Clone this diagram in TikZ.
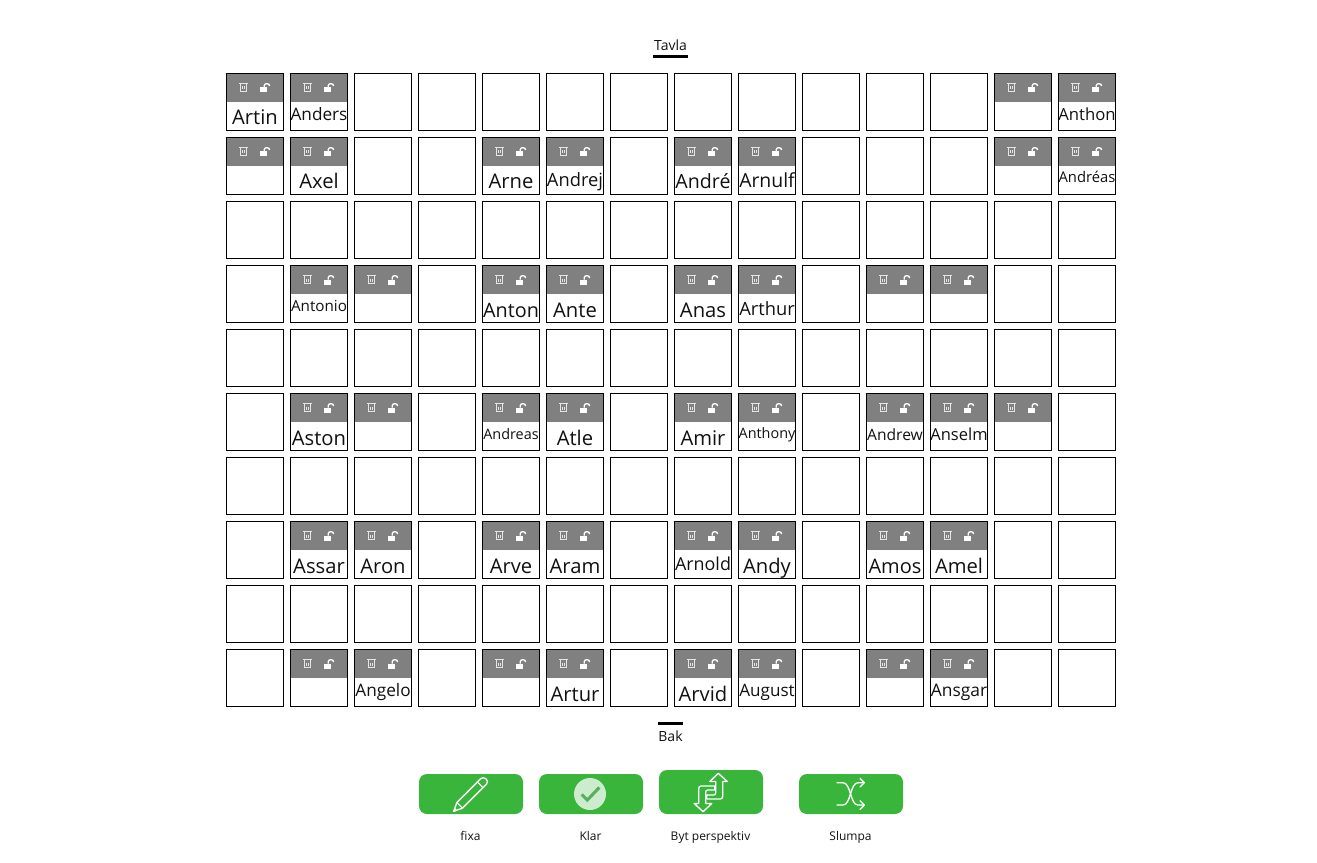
\documentclass[tikz,border=0pt]{standalone}
\usepackage{fontspec}
\setmainfont{Open Sans}
\definecolor{btn}{HTML}{39B53B}
\definecolor{head}{HTML}{808080}
\definecolor{ink}{HTML}{111111}
\definecolor{iconw}{HTML}{E4E4E4}
\definecolor{tick}{HTML}{5AAF5E}
\newcommand{\pxf}[1]{\pgfmathsetlengthmacro{\fsz}{#1*0.75pt}\fontsize{\fsz}{\fsz}\selectfont}
\newcommand{\tileicons}[2]{%
  \pgfmathsetmacro{\ox}{226+64*#1}\pgfmathsetmacro{\oy}{73+64*#2}%
  \begin{scope}[shift={(\ox,\oy)}]
  \draw[iconw,line width=.7pt] (14,11) -- (14,18.8) -- (20.5,18.8) -- (20.5,11);
  \draw[iconw,line width=.7pt] (13,10.8) -- (21.5,10.8);
  \draw[iconw,line width=.5pt] (16.4,13.5) -- (16.4,16.5) (18.2,13.5) -- (18.2,16.5);
  \fill[white] (34,14.5) rectangle (41,19.5);
  \draw[white,line width=1pt] (38.3,14.5) -- (38.3,12.5) .. controls (38.3,10) and (43.7,10) .. (43.7,13);
  \end{scope}
}
\tikzset{
  x=0.75pt,y=-0.75pt,
  cellbox/.style={draw=black,line width=0.85pt,minimum size=42.75pt,inner sep=0pt,outer sep=0pt},
  headbox/.style={fill=head,minimum width=43.5pt,minimum height=21.75pt,inner sep=0pt,outer sep=0pt,anchor=north west},
  namelbl/.style={anchor=base,inner sep=0pt,text=ink},
  btnbox/.style={fill=btn,rounded corners=6pt,inner sep=0pt,outer sep=0pt,minimum width=78pt,anchor=north west},
  btnlbl/.style={anchor=base,inner sep=0pt,text=ink,font=\fontsize{9pt}{11pt}\selectfont},
  sidelbl/.style={anchor=base,inner sep=0pt,text=ink,font=\fontsize{10.5pt}{12pt}\selectfont},
  barbox/.style={fill=black,inner sep=0pt,outer sep=0pt,minimum height=2.25pt},
  icon/.style={draw=white,line width=1pt,line join=round,line cap=round},
}
\begin{document}
\begin{tikzpicture}
\useasboundingbox (0,0) rectangle (1317,863);
% headers without a name
\foreach \c/\r in {12/0,0/1,12/1,2/3,10/3,11/3,2/5,12/5,1/9,4/9,10/9}{
  \node[headbox] (hb-\c-\r) at ({226+64*\c},{73+64*\r}) {};
  \tileicons{\c}{\r}
}
% headers with a name: col/row/name/size/baseline offset
\foreach \c/\r/\t/\s/\b in {
 0/0/Artin/20.2/52, 1/0/Anders/17.2/48, 13/0/Anthon/16.7/48,
 1/1/Axel/20.2/52, 4/1/Arne/20.2/52, 5/1/Andrej/18.3/50, 7/1/André/19.6/52, 8/1/Arnulf/19.4/51, 13/1/Andréas/14.8/46,
 1/3/Antonio/15.2/46, 4/3/Anton/19.8/52, 5/3/Ante/20.2/52, 7/3/Anas/20.2/52, 8/3/Arthur/18.3/50,
 1/5/Aston/20.2/52, 4/5/Andreas/14.4/46, 5/5/Atle/20.2/52, 7/5/Amir/20.2/52, 8/5/Anthony/14.4/45, 10/5/Andrew/15.6/47, 11/5/Anselm/16.5/47,
 1/7/Assar/20.2/52, 2/7/Aron/20.2/52, 4/7/Arve/20.2/52, 5/7/Aram/20.2/52, 7/7/Arnold/17.9/49, 8/7/Andy/20.2/52, 10/7/Amos/20/52, 11/7/Amel/20.2/52,
 2/9/Angelo/17.2/47, 5/9/Artur/20.2/52, 7/9/Arvid/20.2/52, 8/9/August/17.1/47, 11/9/Ansgar/17.4/47}{
  \node[headbox] (hb-\c-\r) at ({226+64*\c},{73+64*\r}) {};
  \tileicons{\c}{\r}
  \node[namelbl,font=\pxf{\s}] (nm-\c-\r) at ({255+64*\c},{73+64*\r+\b}) {\t};
}
% grid
\foreach \r in {0,...,9}{\foreach \c in {0,...,13}{
  \node[cellbox] (cell-\c-\r) at ({255+64*\c},{102+64*\r}) {};
}}
% side labels
\node[sidelbl] (tavla) at (670.5,51) {Tavla};
\node[barbox,minimum width=26.25pt,anchor=north west] (tavlabar) at (653,55.3) {};
\node[barbox,minimum width=18.75pt,anchor=north west] (bakbar) at (658,722) {};
\node[sidelbl] (bak) at (670.5,741) {Bak};
% buttons
\node[btnbox,minimum height=30pt] (b1) at (419,774) {};
\node[btnbox,minimum height=30pt] (b2) at (539,774) {};
\node[btnbox,minimum height=33pt] (b3) at (659,770) {};
\node[btnbox,minimum height=30pt] (b4) at (799,774) {};
\node[btnlbl] (l1) at (470.5,840) {fixa};
\node[btnlbl] (l2) at (590.5,840) {Klar};
\node[btnlbl] (l3) at (710.5,840) {Byt perspektiv};
\node[btnlbl] (l4) at (850.5,840) {Slumpa};
% pencil
\draw[icon] (453.6,811.4) -- (456.9,802.5) -- (480.9,778.5) .. controls (484,775.5) and (490,781) .. (486.5,784.1) -- (462.5,808.1) -- cycle;
\draw[icon,line width=.8pt] (456.9,802.5) -- (462.5,808.1) (477.4,782) -- (483,787.6);
\fill[white] (453.3,811.7) -- (454.6,807.6) -- (457.4,810.4) -- cycle;
% check
\fill[white,opacity=.75] (590,794) circle[radius=16];
\draw[color=tick,line width=2.3pt] (581.7,794.5) -- (587.3,800) -- (599.3,787.5);
% switch
\begin{scope}[shift={(710.7,792.5)}]
\draw[icon] (7.6,-19.2) -- (16.5,-11) -- (12,-11) -- (12,4) .. controls (12,5.5) and (11,6.5) .. (9.5,6.5) -- (-4,6.5) -- (-4,2.5) -- (3,2.5) .. controls (4.5,2.5) and (5,1.5) .. (5,0) -- (5,-11) -- (-1,-11) -- cycle;
\draw[icon] (-7.6,19.2) -- (-16.5,11) -- (-12,11) -- (-12,-4) .. controls (-12,-5.5) and (-11,-6.5) .. (-9.5,-6.5) -- (4,-6.5) -- (4,-2.5) -- (-3,-2.5) .. controls (-4.5,-2.5) and (-5,-1.5) .. (-5,0) -- (-5,11) -- (1,11) -- cycle;
\end{scope}
% shuffle
\draw[icon] (837,782.7) -- (843,782.7) .. controls (851,782.7) and (850,805) .. (858,805) -- (864.3,805);
\draw[icon] (837,805) -- (843,805) .. controls (851,805) and (850,782.7) .. (858,782.7) -- (864.3,782.7);
\draw[icon] (860,778.4) -- (864.3,782.7) -- (860,787);
\draw[icon] (860,800.7) -- (864.3,805) -- (860,809.3);
\end{tikzpicture}
\end{document}
